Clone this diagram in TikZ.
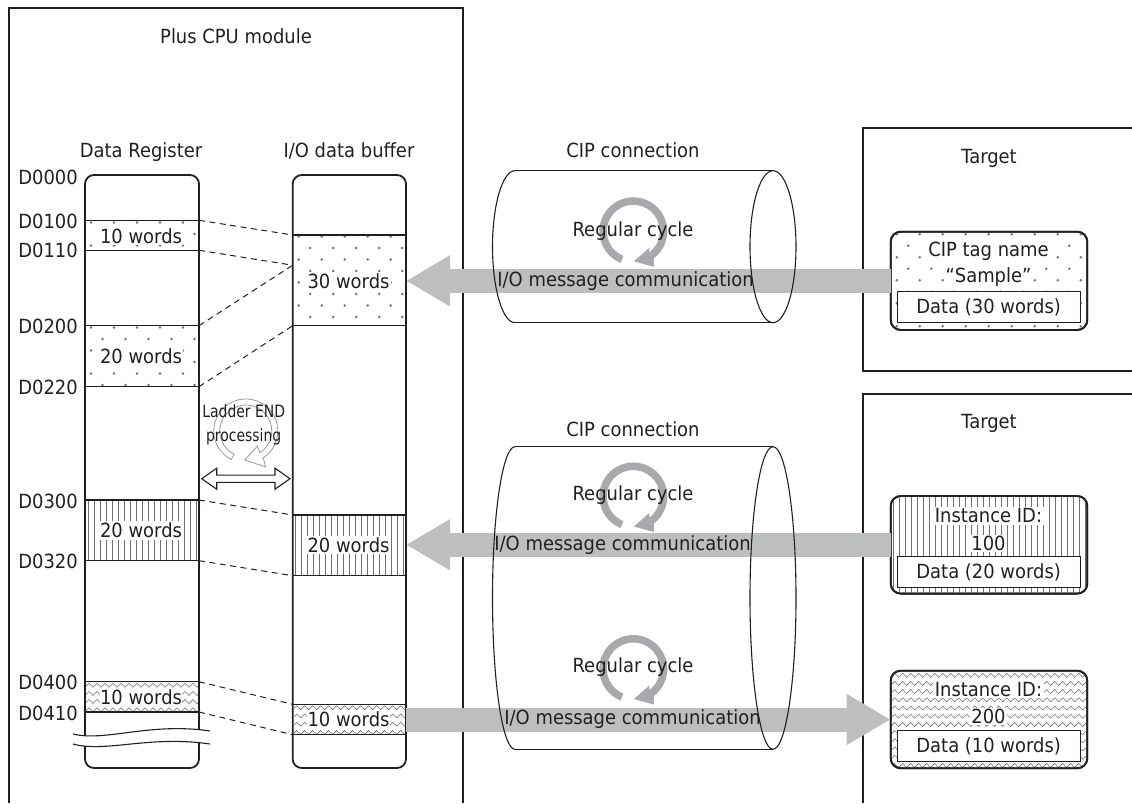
\documentclass[tikz,border=0pt]{standalone}
\usepackage{fontspec}
\setmainfont{DejaVu Sans}[FakeStretch=0.92]
\newfontfamily\narrowfont{DejaVu Sans}[FakeStretch=0.82]
\usetikzlibrary{arrows.meta,calc,decorations.pathmorphing}
\definecolor{txt}{HTML}{231F20}
\definecolor{bandgray}{HTML}{BCBEC0}
\definecolor{ringgray}{HTML}{A7A9AC}
\definecolor{patgray}{HTML}{707070}
\definecolor{ladgray}{HTML}{9A9A9A}

\newcommand\dotpat[5][]{%
  \begin{scope}
    \clip[#1] (#2,#3) rectangle (#4,#5);
    \foreach \j in {0,...,9}{
      \foreach \i in {0,...,9}{
        \fill[patgray] ({#2+5+23*\i+11.5*mod(\j,2)},{#3+1.5+11.5*\j}) circle[radius=1.4];
      }
    }
  \end{scope}}
\newcommand\vlpat[5][]{%
  \begin{scope}
    \clip[#1] (#2,#3) rectangle (#4,#5);
    \foreach \i in {0,...,34}{
      \draw[patgray,line width=0.6] ({#2+2+6*\i},#3) -- ({#2+2+6*\i},#5);
    }
  \end{scope}}
\newcommand\zzpat[5][]{%
  \begin{scope}
    \clip[#1] (#2,#3) rectangle (#4,#5);
    \foreach \j in {0,...,12}{
      \draw[patgray,line width=0.55,decorate,decoration={zigzag,segment length=8pt,amplitude=2pt}]
        ({#2-7},{#3+3.5+8.2*\j}) -- ({#4+7},{#3+3.5+8.2*\j});
    }
  \end{scope}}
\newcommand\cycring[1]{%
  \fill[ringgray] ($(#1)+(112:34)$) arc[start angle=112,end angle=413,radius=34]
    -- ($(#1)+(60:41)$) -- ($(#1)+(89:30)$) -- ($(#1)+(46:23)$) -- ($(#1)+(53:26.5)$)
    arc[start angle=413,end angle=112,radius=26.5] -- cycle;}

\begin{document}
\begin{tikzpicture}[x=1pt,y=-1pt,
  font=\fontsize{19.5}{22}\selectfont, text=txt,
  frame/.style={draw=txt,line width=1.8},
  col/.style={draw=txt,line width=1.8,rounded corners=9,fill=white,inner sep=0,outer sep=0},
  div/.style={draw=txt,line width=1.2},
  conn/.style={draw=txt,line width=1,dash pattern=on 6pt off 4.5pt},
  lbl/.style={inner sep=0,anchor=base},
  dlbl/.style={inner sep=0,anchor=east},
  wlbl/.style={fill=white,inner sep=1.5pt},
  tbox/.style={draw=txt,line width=1.8,rounded corners=10,fill=white,minimum width=196.6,minimum height=97.6,inner sep=0,outer sep=0},
  dbox/.style={draw=txt,line width=1,fill=white,minimum width=182.7,minimum height=30.8,inner sep=0},
  bandarrow/.style={draw=bandgray,line width=24,-{Triangle[length=44pt,width=48pt]}},
  cyl/.style={draw=txt,line width=1.1}]
\useasboundingbox (0,0) rectangle (1132,803);

% frames
\draw[frame] (9,803) -- (9,8) -- (463,8) -- (463,803);
\draw[frame] (1132,128) -- (863,128) -- (863,371) -- (1132,371);
\draw[frame] (1132,394) -- (863,394) -- (863,803);

% headings
\node[lbl] (title) at (236,43.5) {Plus CPU module};
\node[lbl] (drlbl) at (141,157.5) {Data Register};
\node[lbl] (iolbl) at (349,157.5) {I/O data buffer};
\node[lbl] (cip1) at (633,157) {CIP connection};
\node[lbl] (cip2) at (633,436) {CIP connection};
\node[lbl] (tg1) at (989,163) {Target};
\node[lbl] (tg2) at (989,428) {Target};

% columns
\node[col,minimum width=114,minimum height=593] (dr) at (142,471.5) {};
\node[col,minimum width=113.3,minimum height=593] (iob) at (349.35,471.5) {};

% patterns in columns
\dotpat{86}{221}{198}{250}
\dotpat{86}{326}{198}{386.7}
\vlpat{86}{500}{198}{560.7}
\zzpat{86}{681.7}{198}{712}
\dotpat{293.7}{235}{405}{325.7}
\vlpat{293.7}{515}{405}{575.7}
\zzpat{293.7}{704.3}{405}{734.7}

% division lines
\foreach \n/\y in {a/220.3,b/250.3,c/325.7,d/386.7,e/500,f/560.7,g/681.7,h/712}{
  \coordinate (dr\n) at (199,\y);
  \draw[div] (85,\y) -- (dr\n);
}
\foreach \n/\y in {a/235,c/325.7,e/515,f/575.7,g/704.3,h/734.7}{
  \coordinate (io\n) at (292.7,\y);
  \draw[div] (io\n) -- (406,\y);
}
\coordinate (iom) at (292.7,265.2);

% connectors
\draw[conn] (dra) -- (ioa);
\draw[conn] (drb) -- (iom);
\draw[conn] (drc) -- (iom);
\draw[conn] (drd) -- (ioc);
\draw[conn] (dre) -- (ioe);
\draw[conn] (drf) -- (iof);
\draw[conn] (drg) -- (iog);
\draw[conn] (drh) -- (ioh);

% D labels
\node[dlbl] (d0000) at (78,177) {D0000};
\node[dlbl] (d0100) at (78,221.5) {D0100};
\node[dlbl] (d0110) at (78,250.8) {D0110};
\node[dlbl] (d0200) at (78,326.5) {D0200};
\node[dlbl] (d0220) at (78,387.5) {D0220};
\node[dlbl] (d0300) at (78,501) {D0300};
\node[dlbl] (d0320) at (78,561.5) {D0320};
\node[dlbl] (d0400) at (78,682.5) {D0400};
\node[dlbl] (d0410) at (78,713) {D0410};

% word labels
\node[wlbl] (w1) at (141,236) {10 words};
\node[wlbl] (w2) at (141,356.5) {20 words};
\node[wlbl] (w3) at (141,530.5) {20 words};
\node[wlbl,inner sep=0.5pt] (w4) at (141,697) {10 words};
\node[wlbl] (w5) at (348.5,281) {30 words};
\node[wlbl] (w6) at (348.5,545) {20 words};
\node[wlbl,inner sep=0.5pt] (w7) at (348.5,719.5) {10 words};

% break symbol
\fill[white] (73,734) .. controls (105,742) and (150,722) .. (210,731)
  -- (210,744) .. controls (150,735) and (105,753) .. (73,744) -- cycle;
\draw[txt,line width=1.1] (73,734) .. controls (105,742) and (150,722) .. (210,731);
\draw[txt,line width=1.1] (73,744) .. controls (105,753) and (150,735) .. (210,744);

% ladder END processing
\coordinate (lc) at (245.8,431);
\filldraw[draw=ladgray,fill=white,line width=0.8] ($(lc)+(117:32)$) arc[start angle=117,end angle=417,radius=32]
  -- ($(lc)+(61:41)$) -- ($(lc)+(92:29)$) -- ($(lc)+(52:19)$) -- ($(lc)+(57:26)$)
  arc[start angle=417,end angle=117,radius=26] -- cycle;
\node[inner sep=0,font=\narrowfont\fontsize{17}{19}\selectfont] (lad1) at (243.7,410.7) {Ladder END};
\node[inner sep=0,font=\narrowfont\fontsize{17}{19}\selectfont] (lad2) at (243.7,437) {processing};
\coordinate (la) at (201.7,478.7);
\coordinate (lb) at (290,478.7);
\draw[txt,fill=white,line width=1.1] (la) -- ($(la)+(15,-10.5)$) -- ($(la)+(15,-3.6)$) -- ($(lb)+(-15,-3.6)$)
  -- ($(lb)+(-15,-10.5)$) -- (lb) -- ($(lb)+(-15,10.5)$) -- ($(lb)+(-15,3.6)$) -- ($(la)+(15,3.6)$)
  -- ($(la)+(15,10.5)$) -- cycle;

% target boxes
\node[tbox,minimum height=98.3] (box1) at (989,280.85) {};
\dotpat[rounded corners=9]{891.7}{232.7}{1086.3}{329}
\node[wlbl] (t1a) at (988.5,251) {CIP tag name};
\node[wlbl] (t1b) at (988.5,277.5) {“Sample”};
\node[dbox] (data1) at (988.65,307) {Data (30 words)};

\node[tbox] (box2) at (989,544.8) {};
\vlpat[rounded corners=9]{891.7}{497}{1086.3}{592.6}
\node[wlbl] (t2a) at (988.5,516) {Instance ID:};
\node[wlbl,inner sep=1pt] (t2b) at (988.5,543.3) {100};
\node[dbox] (data2) at (988.65,572.2) {Data (20 words)};

\node[tbox] (box3) at (989,719.5) {};
\zzpat[rounded corners=9]{891.7}{671.7}{1086.3}{767.3}
\node[wlbl] (t3a) at (988.5,689.3) {Instance ID:};
\node[wlbl,inner sep=1pt] (t3b) at (988.5,716.7) {200};
\node[dbox] (data3) at (988.65,746.2) {Data (10 words)};
\draw[draw=txt,line width=1.8,rounded corners=10] (box3.south west) rectangle (box3.north east);
\draw[draw=txt,line width=1.8,rounded corners=10] (box2.south west) rectangle (box2.north east);
\draw[draw=txt,line width=1.8,rounded corners=10] (box1.south west) rectangle (box1.north east);

% bands
\draw[bandarrow] (box1.west) -- (iob.east |- box1.west);
\draw[bandarrow] (box2.west) -- (iob.east |- box2.west);
\draw[bandarrow] (iob.east |- box3.west) -- (box3.west);

% cylinders
\draw[cyl] (515,170.7) arc[start angle=270,end angle=90,x radius=22.5,y radius=76];
\draw[cyl] (515,170.7) -- (773,170.7);
\draw[cyl] (515,322.7) -- (773,322.7);
\draw[cyl] (773,246.7) ellipse[x radius=23,y radius=76];

\draw[cyl] (515,446.7) arc[start angle=270,end angle=90,x radius=22.5,y radius=151.3];
\draw[cyl] (515,446.7) -- (773,446.7);
\draw[cyl] (515,749.3) -- (773,749.3);
\draw[cyl] (773,598) ellipse[x radius=23,y radius=151.3];

% regular cycle rings
\coordinate (rc1) at (633.3,231.3);
\coordinate (rc2) at (633.3,496.5);
\coordinate (rc3) at (633.3,669);
\cycring{rc1}
\cycring{rc2}
\cycring{rc3}
\node[inner sep=0] (rg1) at (633,231) {Regular cycle};
\node[inner sep=0] (rg2) at (633,495) {Regular cycle};
\node[inner sep=0] (rg3) at (633,667.5) {Regular cycle};

% band labels
\node[inner sep=0] (m1) at (625.5,281) {I/O message communication};
\node[inner sep=0] (m2) at (622.5,545) {I/O message communication};
\node[inner sep=0] (m3) at (632.5,719) {I/O message communication};
\end{tikzpicture}
\end{document}
